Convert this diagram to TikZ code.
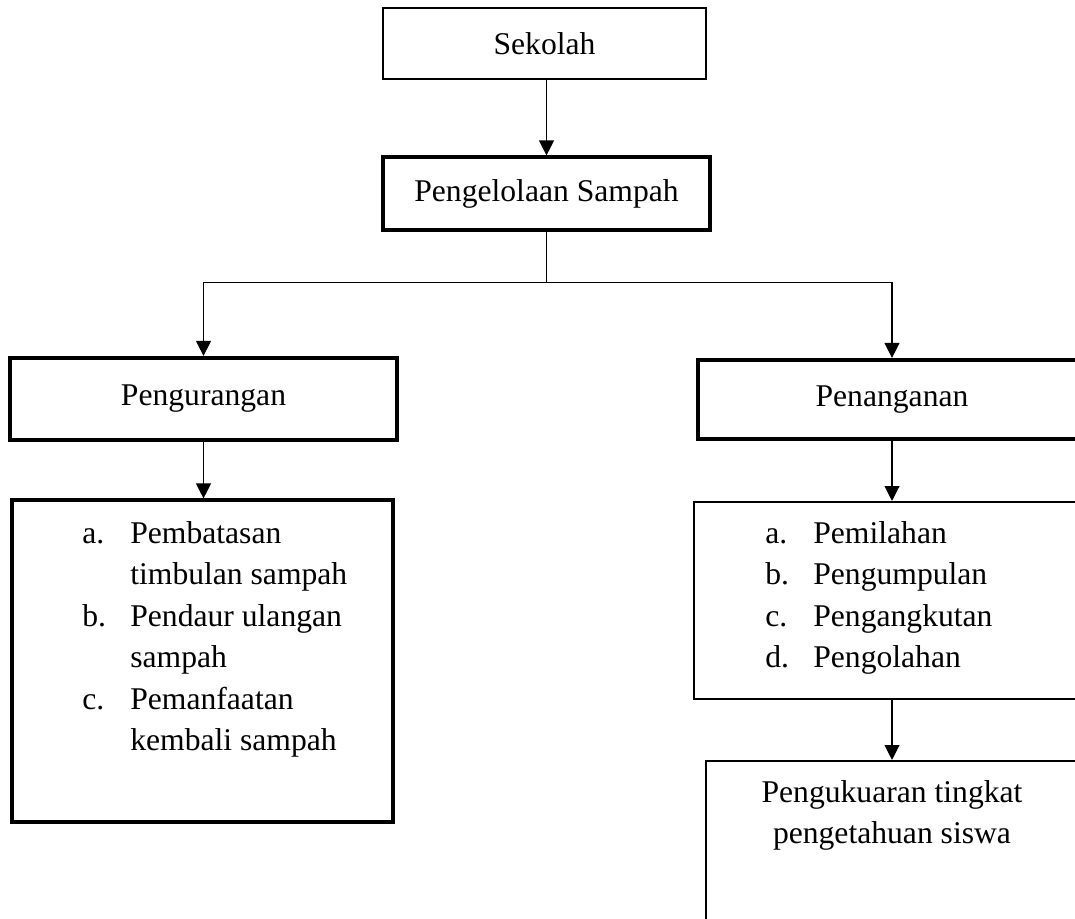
\documentclass[tikz,border=0pt]{standalone}
\usepackage{fontspec}
\setmainfont{Liberation Serif}
\usetikzlibrary{arrows.meta,positioning}
\newlength{\pxu}\setlength{\pxu}{0.02cm}
\newlength{\lblw}\setlength{\lblw}{0.96cm}
\newcommand{\itm}[1]{\makebox[\lblw][l]{#1}}
\newcommand{\cont}{\hspace*{\lblw}}

\begin{document}
\begin{tikzpicture}[x=0.02cm, y=-0.02cm,
    box/.style={rectangle, draw, line width=#1, inner sep=0pt},
    box/.default=0.8pt,
    txt/.style={font=\fontsize{18}{23.6}\selectfont},
    arrow/.style={-{Triangle[width=8.5pt,length=8.5pt]}, line width=0.7pt},
]
    \useasboundingbox (0,0) rectangle (1075,919);
    \clip (0,0) rectangle (1075,919);

    % top boxes
    \node[box=1pt, txt, minimum width=323\pxu, minimum height=71\pxu] (sekolah) at (544.5,43.5) {Sekolah};
    \node[box=1.8pt, txt, minimum width=327\pxu, minimum height=73\pxu] (kelola) at (546.5,193.5) {Pengelolaan Sampah};

    % two branches
    \node[box=2.4pt, txt, minimum width=387\pxu, minimum height=82\pxu] (kurang) at (203.5,399) {Pengurangan};
    \node[box=2.4pt, txt, minimum width=388\pxu, minimum height=79\pxu] (tangan) at (892,399.5) {Penanganan};

    % list boxes
    \node[box=1.8pt, minimum width=381\pxu, minimum height=322\pxu] (kurangList) at (202.5,661) {};
    \node[txt, align=left, anchor=north west, inner sep=0pt] (kurangItems) at (82,521)
        {\itm{a.}Pembatasan\\ \cont timbulan sampah\\ \itm{b.}Pendaur ulangan\\ \cont sampah\\ \itm{c.}Pemanfaatan\\ \cont kembali sampah};
    \node[box=1.2pt, minimum width=396\pxu, minimum height=197\pxu] (tanganList) at (892,600.5) {};
    \node[txt, align=left, anchor=north west, inner sep=0pt] (tanganItems) at (765,521)
        {\itm{a.}Pemilahan\\ \itm{b.}Pengumpulan\\ \itm{c.}Pengangkutan\\ \itm{d.}Pengolahan};

    % measurement
    \node[box=1.2pt, minimum width=372\pxu, minimum height=200\pxu] (ukur) at (892,861) {};
    \node[txt, align=center, anchor=north, inner sep=0pt] (ukurText) at (892,780)
        {Pengukuaran tingkat\\pengetahuan siswa};

    % connectors
    \draw[arrow] (kelola.north |- sekolah.south) -- (kelola.north);
    \draw[line width=0.7pt] (kelola.south) -- ++(0,51) coordinate (split);
    \draw[arrow] (split) -| (kurang.north);
    \draw[arrow] (split) -| (tangan.north);
    \draw[arrow] (kurang.south) -- (kurang.south |- kurangList.north);
    \draw[arrow] (tangan) -- (tanganList);
    \draw[arrow] (tanganList) -- (ukur);
\end{tikzpicture}
\end{document}
